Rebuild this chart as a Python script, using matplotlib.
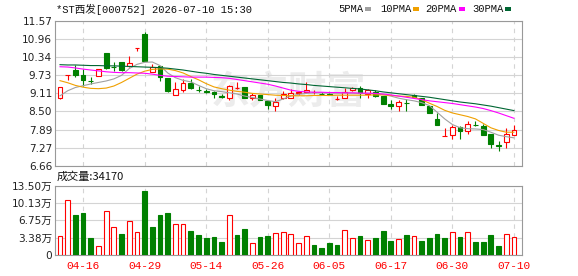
import numpy as np
import matplotlib
matplotlib.use('Agg')
import matplotlib.pyplot as plt
from matplotlib.patches import Rectangle

plt.rcParams['font.family'] = ['DejaVu Sans', 'Noto Sans CJK SC']

# K线数据 (开 高 低 收)
open_ = [8.95, 9.74, 9.89, 9.72, 9.54, 9.70, 10.46, 10.01, 10.18, 10.03,
         10.64, 11.12, 9.84, 10.03, 9.64, 9.06, 9.24, 9.45, 9.23, 9.19,
         9.16, 9.01, 8.96, 9.29, 9.33, 8.97, 9.04, 8.87, 8.70, 8.95,
         8.95, 9.14, 9.15, 9.17, 9.09, 9.09, 8.92, 8.95, 9.22, 9.28,
         9.09, 9.15, 9.02, 8.76, 8.67, 8.79, 9.04, 8.95, 8.68, 8.25,
         7.67, 7.72, 7.96, 7.83, 8.06, 8.00, 7.74, 7.36, 7.47, 7.69]
high = [9.31, 9.74, 10.06, 9.94, 9.67, 9.94, 10.46, 10.18, 10.18, 10.36,
        10.64, 11.18, 10.09, 10.03, 9.64, 9.48, 9.60, 9.58, 9.36, 9.27,
        9.18, 9.10, 9.38, 9.51, 9.34, 9.11, 9.05, 8.87, 8.94, 9.19,
        9.25, 9.19, 9.51, 9.24, 9.16, 9.16, 9.03, 9.30, 9.33, 9.37,
        9.26, 9.21, 9.02, 8.88, 8.89, 8.91, 9.10, 8.95, 8.68, 8.44,
        7.93, 8.05, 8.02, 8.19, 8.17, 8.08, 7.74, 7.49, 7.95, 8.04]
low = [8.93, 9.56, 9.67, 9.36, 9.42, 9.69, 9.94, 9.86, 9.88, 10.00,
       10.53, 10.19, 9.84, 9.53, 9.17, 9.06, 9.16, 9.27, 9.15, 9.14,
       8.96, 8.94, 8.90, 9.25, 8.96, 8.89, 8.89, 8.57, 8.52, 8.92,
       8.95, 9.06, 9.13, 9.08, 9.04, 9.04, 8.88, 8.94, 9.19, 8.97,
       8.95, 9.00, 8.75, 8.58, 8.52, 8.52, 8.95, 8.72, 8.45, 8.05,
       7.67, 7.58, 7.58, 7.74, 8.01, 7.72, 7.27, 7.15, 7.27, 7.69]
close = [9.31, 9.74, 9.72, 9.56, 9.52, 9.94, 9.98, 9.99, 9.90, 10.15,
         10.64, 10.20, 10.01, 9.66, 9.19, 9.25, 9.47, 9.28, 9.22, 9.17,
         9.09, 8.99, 9.37, 9.30, 8.96, 9.06, 8.90, 8.72, 8.81, 9.08,
         9.12, 9.15, 9.24, 9.17, 9.08, 9.07, 8.92, 9.16, 9.28, 9.11,
         9.24, 9.03, 8.75, 8.67, 8.81, 8.78, 8.98, 8.73, 8.46, 8.06,
         7.67, 7.97, 7.83, 8.08, 8.05, 7.72, 7.41, 7.35, 7.74, 7.88]
prev_close = 8.87

# 成交量 (万)
volume = [3.70, 10.65, 7.86, 8.25, 3.38, 1.75, 8.57, 5.45, 4.16, 6.56,
          4.55, 12.53, 5.45, 7.86, 8.25, 6.04, 6.04, 4.74, 3.96, 3.38,
          3.50, 2.60, 7.80, 3.96, 5.06, 2.34, 3.50, 3.70, 4.29, 4.48,
          4.10, 2.34, 3.70, 1.95, 1.36, 2.34, 1.95, 4.87, 3.30, 3.70,
          2.90, 3.30, 4.68, 2.73, 3.10, 3.90, 3.70, 2.73, 3.30, 4.10,
          3.30, 4.48, 3.50, 4.48, 2.53, 2.53, 3.90, 1.75, 4.10, 3.417]

# 均线
ma5 = [9.03, 9.20, 9.31, 9.37, 9.43, 9.48, 9.53, 9.60, 9.72, 9.95,
       10.09, 10.16, 10.17, 10.05, 9.80, 9.64, 9.55, 9.50, 9.38, 9.27,
       9.20, 9.17, 9.13, 9.09, 9.02, 8.97, 8.92, 8.87, 8.83, 8.92,
       9.02, 9.08, 9.11, 9.13, 9.13, 9.12, 9.12, 9.12, 9.12, 9.11,
       9.11, 9.10, 9.07, 9.02, 8.95, 8.90, 8.86, 8.80, 8.70, 8.48,
       8.25, 8.06, 7.95, 7.92, 7.91, 7.89, 7.80, 7.70, 7.65, 7.61]
ma10 = [9.54, 9.47, 9.38, 9.32, 9.28, 9.27, 9.29, 9.36, 9.48, 9.62,
        9.76, 9.86, 9.92, 9.94, 9.93, 9.88, 9.80, 9.68, 9.57, 9.44,
        9.33, 9.27, 9.22, 9.18, 9.15, 9.11, 9.09, 9.07, 9.05, 9.04,
        9.03, 9.03, 9.03, 9.04, 9.04, 9.04, 9.05, 9.05, 9.05, 9.05,
        9.05, 9.06, 9.06, 9.04, 9.02, 9.01, 8.98, 8.90, 8.78, 8.67,
        8.54, 8.45, 8.39, 8.33, 8.25, 8.10, 7.95, 7.86, 7.80, 7.80]
ma20 = [10.01, 10.00, 9.97, 9.93, 9.90, 9.87, 9.84, 9.82, 9.81, 9.81,
        9.80, 9.79, 9.76, 9.72, 9.69, 9.68, 9.67, 9.66, 9.66, 9.66,
        9.65, 9.64, 9.62, 9.58, 9.54, 9.50, 9.46, 9.42, 9.36, 9.29,
        9.22, 9.18, 9.16, 9.15, 9.15, 9.14, 9.14, 9.13, 9.13, 9.12,
        9.12, 9.11, 9.09, 9.06, 9.02, 8.98, 8.94, 8.90, 8.86, 8.83,
        8.80, 8.77, 8.73, 8.69, 8.65, 8.60, 8.53, 8.45, 8.36, 8.27]
ma30 = [10.08, 10.07, 10.07, 10.06, 10.05, 10.05, 10.04, 10.04, 10.03, 10.02,
        10.01, 10.00, 9.99, 9.98, 9.96, 9.93, 9.90, 9.86, 9.82, 9.79,
        9.75, 9.72, 9.69, 9.66, 9.63, 9.60, 9.57, 9.54, 9.51, 9.48,
        9.46, 9.43, 9.41, 9.38, 9.36, 9.34, 9.32, 9.30, 9.28, 9.26,
        9.23, 9.20, 9.16, 9.13, 9.10, 9.07, 9.04, 9.01, 8.98, 8.94,
        8.90, 8.86, 8.82, 8.79, 8.76, 8.72, 8.68, 8.63, 8.58, 8.53]

date_idx = [3, 11, 19, 27, 35, 43, 51, 59]
date_labels = ['04-16', '04-29', '05-14', '05-26', '06-05', '06-17', '06-30', '07-10']
price_ticks = [6.66, 7.27, 7.89, 8.50, 9.11, 9.73, 10.34, 10.96, 11.57]
vol_ticks = [0, 3.38, 6.75, 10.13, 13.50]
vol_labels = ['0', '3.38万', '6.75万', '10.13万', '13.50万']

RED = '#ff0000'
GREEN = '#008000'
GRID = '#d4d4d4'
SPINE = '#999999'
MONO = ['Liberation Mono', 'Noto Sans CJK SC']

o = np.array(open_)
h = np.array(high)
l = np.array(low)
c = np.array(close)
v = np.array(volume)
x = np.arange(len(c))
up = c >= o
vol_up = c >= np.concatenate([[prev_close], c[:-1]])

fig = plt.figure(figsize=(5.78, 2.76), dpi=100)
ax = fig.add_axes([0.0952, 0.3986, 0.8079, 0.527])
axv = fig.add_axes([0.0952, 0.0761, 0.8079, 0.2511])

# 水印
ax.text(0.5, 0.5, '东方财富', transform=ax.transAxes, ha='center', va='center',
        fontsize=28, color='#ececec', fontweight='bold', family='Noto Sans CJK SC', zorder=0)

# K线
w = 0.62
ax.vlines(x, l, h, colors=np.where(up, RED, GREEN), linewidth=0.8, zorder=2)
ax.bar(x[up], (c - o)[up], bottom=o[up], width=w, facecolor='white',
       edgecolor=RED, linewidth=0.8, zorder=3)
ax.bar(x[~up], (o - c)[~up], bottom=c[~up], width=w, facecolor=GREEN,
       edgecolor=GREEN, linewidth=0.8, zorder=3)

# 均线
ax.plot(x, ma5, color='#a0a0a0', lw=0.8, zorder=4)
ax.plot(x, ma10, color='#f0a000', lw=0.8, zorder=4)
ax.plot(x, ma20, color='#ff00ff', lw=0.8, zorder=4)
ax.plot(x, ma30, color='#006633', lw=0.8, zorder=4)

ax.set_xlim(-0.65, 60.05)
ax.set_ylim(6.66, 11.57)
ax.set_yticks(price_ticks)
ax.set_yticklabels(['%.2f' % t for t in price_ticks])
ax.set_xticks(date_idx)
ax.set_xticklabels([])
ax.tick_params(axis='both', length=0, pad=2, labelsize=7.6, labelcolor='#222222')
ax.grid(axis='y', color=GRID, linewidth=0.8, linestyle='-')
ax.grid(axis='x', color=GRID, linewidth=0.8, linestyle=(0, (4, 4)))
ax.set_axisbelow(True)
for s in ax.spines.values():
    s.set_color(SPINE)
    s.set_linewidth(0.8)

# 成交量
axv.bar(x[vol_up], v[vol_up], width=w, facecolor='white', edgecolor=RED, linewidth=0.8, zorder=3)
axv.bar(x[~vol_up], v[~vol_up], width=w, facecolor=GREEN, edgecolor=GREEN, linewidth=0.8, zorder=3)
axv.set_xlim(-0.65, 60.05)
axv.set_ylim(0, 13.5)
axv.set_yticks(vol_ticks)
axv.set_yticklabels(vol_labels)
axv.set_xticks(date_idx)
axv.set_xticklabels(date_labels, family=MONO, fontsize=8, color=RED)
axv.tick_params(axis='y', length=0, pad=2, labelsize=7.6, labelcolor='#222222')
axv.tick_params(axis='x', length=0, pad=4)
axv.grid(axis='y', color=GRID, linewidth=0.8, linestyle='-')
axv.grid(axis='x', color=GRID, linewidth=0.8, linestyle=(0, (4, 4)))
axv.set_axisbelow(True)
for s in axv.spines.values():
    s.set_color(SPINE)
    s.set_linewidth(0.8)

# 标题与图例
fig.text(56 / 578, 1 - 9 / 276, '*ST西发[000752] 2026-07-10 15:30', family=MONO,
         fontsize=7.6, va='center', ha='left', color='#111111')
fig.text(57 / 578, 1 - 177 / 276, '成交量:34170', family=['Noto Sans CJK SC'],
         fontsize=8, va='center', ha='left', color='#111111')

legend = [('5PMA', '#a0a0a0', 338, 365), ('10PMA', '#f0a000', 380, 413),
          ('20PMA', '#ff00ff', 425, 459), ('30PMA', '#006633', 472, 505)]
for name, col, tx, cx in legend:
    fig.text(tx / 578, 1 - 9 / 276, name, family=MONO, fontsize=7.6,
             va='center', ha='left', color='#111111')
    fig.patches.append(Rectangle((cx / 578, 1 - 10.5 / 276), 6 / 578, 3 / 276,
                                 transform=fig.transFigure, facecolor=col, edgecolor='none'))

fig.savefig('out.png', dpi=100)
